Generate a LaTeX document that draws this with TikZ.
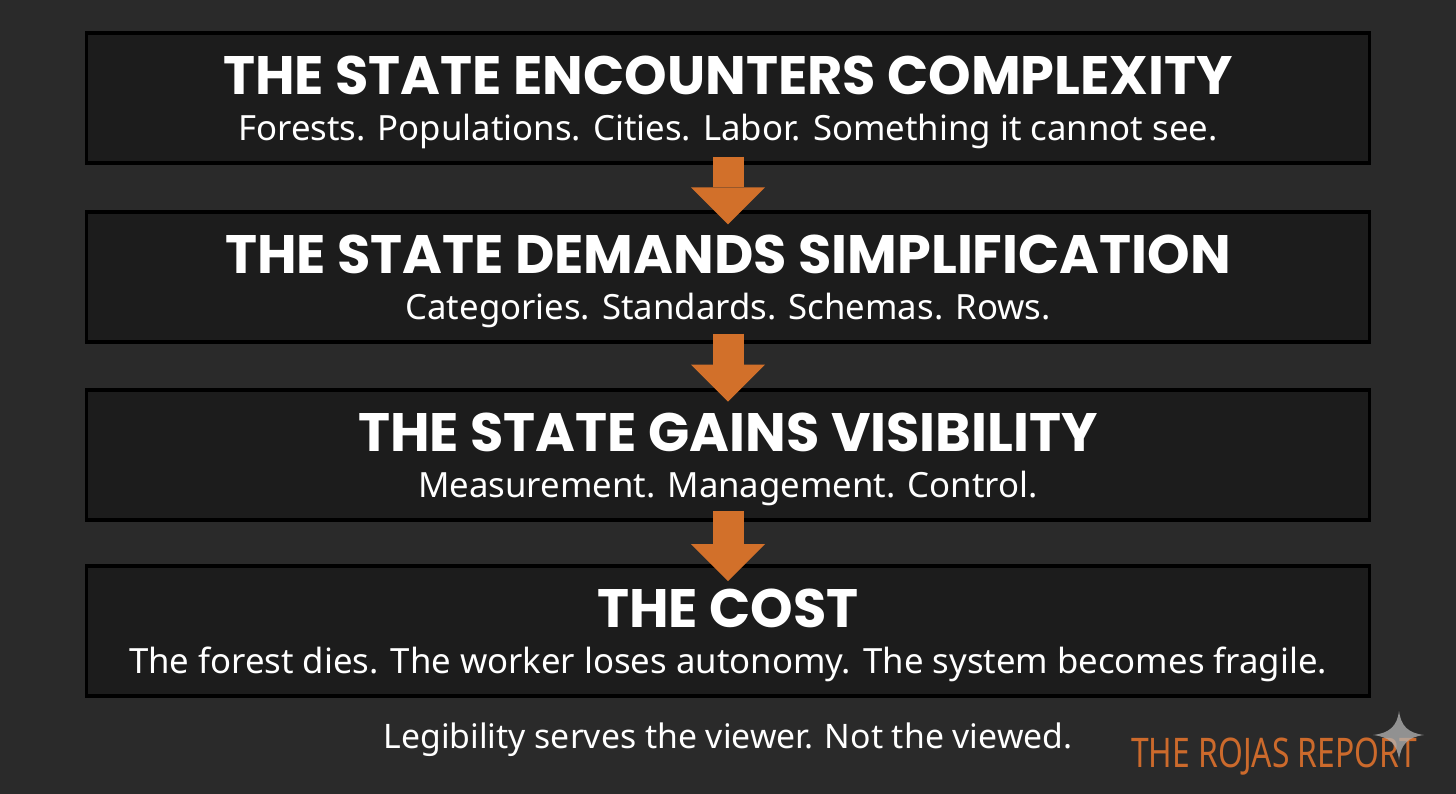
\documentclass[tikz,border=0pt]{standalone}
\usepackage{fontspec}
\setmainfont{Noto Sans}
\newfontfamily\headfont{Poppins}
\newfontfamily\logofont{Noto Sans}[FakeStretch=0.78]
\usetikzlibrary{arrows.meta,positioning,calc}
\definecolor{bgdark}{HTML}{2A2A2A}
\definecolor{boxdark}{HTML}{1C1C1C}
\definecolor{rustorange}{HTML}{D2702A}
\definecolor{logoorange}{HTML}{CC6A2C}
\definecolor{stargray}{HTML}{B4B4B4}

\begin{document}
\begin{tikzpicture}[
  x=0.025cm, y=-0.025cm,
  stage/.style={draw=black, line width=2.2pt, fill=boxdark,
                minimum width=32.05cm, minimum height=3.25cm, inner sep=0pt},
  headline/.style={anchor=base, text=white, font=\headfont\bfseries\fontsize{38.5}{42}\selectfont},
  subline/.style={anchor=base, text=white, font=\fontsize{24.7}{28}\selectfont},
  flow/.style={rustorange, line width=0.775cm,
               -{Triangle[width=1.85cm, length=0.925cm, line width=0pt]}}
]
\useasboundingbox (0,0) rectangle (1456,794);
\fill[bgdark] (0,0) rectangle (1456,794);

%% Stages
\node[stage] (b1) at (728,98)  {};
\node[stage] (b2) at (728,277) {};
\node[stage] (b3) at (728,455) {};
\node[stage] (b4) at (728,631) {};

%% Stage texts
\node[headline] (t1) at ([yshift=-1.575cm]b1.north) {THE STATE ENCOUNTERS COMPLEXITY};
\node[subline]  (s1) at ([yshift=-2.725cm]b1.north) {Forests. Populations. Cities. Labor. Something it cannot see.};
\node[headline] (t2) at ([yshift=-1.575cm]b2.north) {THE STATE DEMANDS SIMPLIFICATION};
\node[subline]  (s2) at ([yshift=-2.725cm]b2.north) {Categories. Standards. Schemas. Rows.};
\node[headline] (t3) at ([yshift=-1.575cm]b3.north) {THE STATE GAINS VISIBILITY};
\node[subline]  (s3) at ([yshift=-2.725cm]b3.north) {Measurement. Management. Control.};
\node[headline] (t4) at ([yshift=-1.575cm]b4.north) {THE COST};
\node[subline]  (s4) at ([yshift=-2.725cm]b4.north) {The forest dies. The worker loses autonomy. The system becomes fragile.};

%% Arrows between stages
\draw[flow] ([yshift=0.2cm]b1.south)  -- ([yshift=-0.35cm]b2.north);
\draw[flow] ([yshift=0.25cm]b2.south) -- ([yshift=-0.33cm]b3.north);
\draw[flow] ([yshift=0.27cm]b3.south) -- ([yshift=-0.42cm]b4.north);

%% Footer
\node[anchor=base, text=white, font=\fontsize{24}{28}\selectfont]
      (moral) at (728,748) {Legibility serves the viewer. Not the viewed.};
\node[anchor=base, text=logoorange, font=\logofont\fontsize{29}{32}\selectfont]
      (logo) at (1274,767) {THE ROJAS REPORT};
\fill[stargray, opacity=0.75] (1399,711) .. controls (1401,726) and (1408,733) .. (1424,735)
      .. controls (1408,737) and (1401,744) .. (1399,760)
      .. controls (1397,744) and (1390,737) .. (1373,735)
      .. controls (1390,733) and (1397,726) .. (1399,711) -- cycle;

\end{tikzpicture}
\end{document}
